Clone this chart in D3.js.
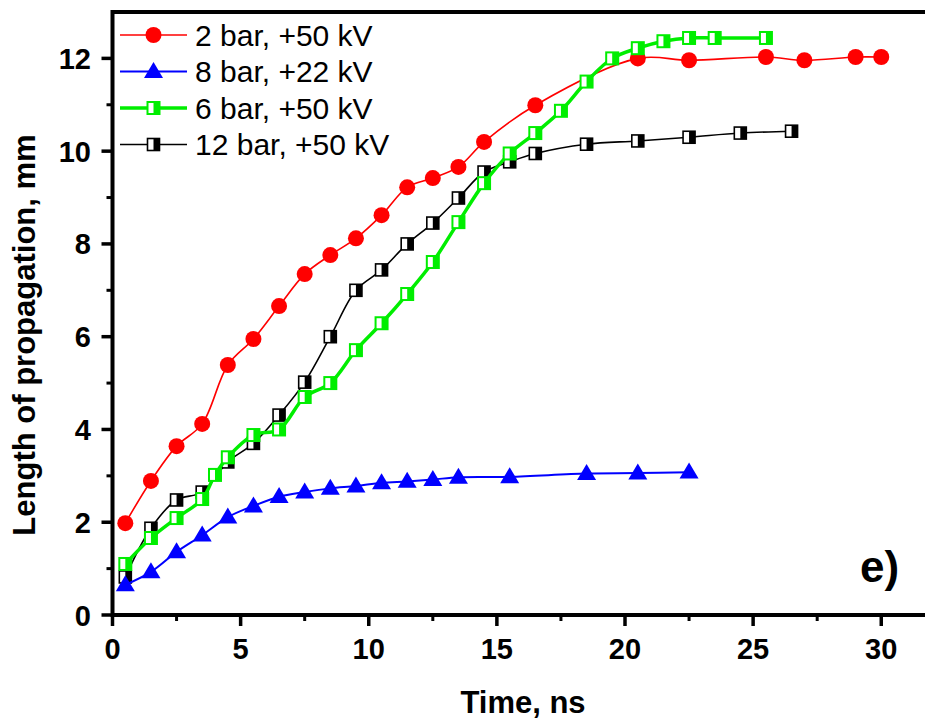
<!DOCTYPE html>
<html><head><meta charset="utf-8">
<script src="https://cdn.jsdelivr.net/npm/d3@7"></script>
<style>
html,body{margin:0;padding:0;background:#fff;}
svg{display:block;font-family:"Liberation Sans",Arial,Helvetica,sans-serif;}
</style></head>
<body><svg id="c" width="925" height="722"></svg>
<script>
const xTicks = [0,5,10,15,20,25,30];
const yTicks = [0,2,4,6,8,10,12];

const redX = [0.5,1.5,2.5,3.5,4.5,5.5,6.5,7.5,8.5,9.5,10.5,11.5,12.5,13.5,14.5,16.5,20.5,22.5,25.5,27,29,30];
const redY = [1.98,2.89,3.64,4.12,5.39,5.95,6.66,7.35,7.76,8.12,8.62,9.22,9.42,9.66,10.2,10.99,12.0,11.96,12.03,11.96,12.03,12.03];

const blueX = [0.5,1.5,2.5,3.5,4.5,5.5,6.5,7.5,8.5,9.5,10.5,11.5,12.5,13.5,15.5,18.5,20.5,22.5];
const blueY = [0.65,0.93,1.36,1.72,2.11,2.35,2.55,2.65,2.73,2.78,2.85,2.88,2.92,2.97,2.98,3.05,3.06,3.08];

const greenX = [0.5,1.5,2.5,3.5,4,4.5,5.5,6.5,7.5,8.5,9.5,10.5,11.5,12.5,13.5,14.5,15.5,16.5,17.5,18.5,19.5,20.5,21.5,22.5,23.5,25.5];
const greenY = [1.1,1.66,2.09,2.5,3.02,3.4,3.88,4.0,4.7,5.0,5.71,6.29,6.92,7.61,8.47,9.31,9.95,10.39,10.87,11.5,12.0,12.22,12.37,12.44,12.44,12.44];

const blackX = [0.5,1.5,2.5,3.5,4.5,5.5,6.5,7.5,8.5,9.5,10.5,11.5,12.5,13.5,14.5,15.5,16.5,18.5,20.5,22.5,24.5,26.5];
const blackY = [0.82,1.87,2.48,2.65,3.3,3.7,4.31,5.02,6.0,7.0,7.44,8.0,8.45,8.99,9.55,9.77,9.95,10.15,10.22,10.3,10.39,10.43];

const labels = ["2 bar, +50 kV","8 bar, +22 kV","6 bar, +50 kV","12 bar, +50 kV"];

const svg = d3.select("#c");
const L = 112.5, T = 12, W = 820, H = 603;
const x = d3.scaleLinear().domain([0,32]).range([L, L+W]);
const y = d3.scaleLinear().domain([0,13]).range([T+H, T]);

const series = [
  {name:labels[0], xs:redX, ys:redY, color:"#ff0000", width:1.6, sym:"circle"},
  {name:labels[3], xs:blackX, ys:blackY, color:"#000000", width:1.6, sym:"sqBlack"},
  {name:labels[1], xs:blueX, ys:blueY, color:"#0000ff", width:2, sym:"tri"},
  {name:labels[2], xs:greenX, ys:greenY, color:"#00ee00", width:3.5, sym:"sqGreen"}
];

function drawSym(g, sym, cx, cy){
  if(sym==="circle"){
    g.append("circle").attr("cx",cx).attr("cy",cy).attr("r",8).attr("fill","#ff0000");
  } else if(sym==="tri"){
    const s=19, h=16;
    g.append("path").attr("d",`M${cx},${cy-h*0.6}L${cx+s/2},${cy+h*0.4}L${cx-s/2},${cy+h*0.4}Z`).attr("fill","#0000ff");
  } else {
    const c = sym==="sqGreen" ? "#00ee00" : "#000000";
    const sw = sym==="sqGreen" ? 2 : 1.6;
    const a = 12;
    g.append("rect").attr("x",cx-a/2).attr("y",cy-a/2).attr("width",a).attr("height",a).attr("fill","#fff");
    g.append("rect").attr("x",cx).attr("y",cy-a/2).attr("width",a/2).attr("height",a).attr("fill",c);
    g.append("rect").attr("x",cx-a/2).attr("y",cy-a/2).attr("width",a).attr("height",a).attr("fill","none").attr("stroke",c).attr("stroke-width",sw);
  }
}

const line = d3.line().curve(d3.curveCatmullRom.alpha(0.5));
series.forEach(s=>{
  const pts = s.xs.map((v,i)=>[x(v), y(s.ys[i])]);
  svg.append("path").attr("d",line(pts)).attr("fill","none").attr("stroke",s.color).attr("stroke-width",s.width);
  const g = svg.append("g");
  pts.forEach(p=>drawSym(g, s.sym, p[0], p[1]));
});

// axes
const ax = svg.append("g").attr("stroke","#000");
d3.range(2.5,32,5).forEach(v=>{
  ax.append("line").attr("x1",x(v)).attr("x2",x(v)).attr("y1",T+H).attr("y2",T+H+6).attr("stroke-width",3);
});
xTicks.forEach(v=>{
  ax.append("line").attr("x1",x(v)).attr("x2",x(v)).attr("y1",T+H).attr("y2",T+H+11).attr("stroke-width",3.5);
});
d3.range(1,13,2).forEach(v=>{
  ax.append("line").attr("x1",L).attr("x2",L-6).attr("y1",y(v)).attr("y2",y(v)).attr("stroke-width",3);
});
yTicks.forEach(v=>{
  ax.append("line").attr("x1",L).attr("x2",L-11).attr("y1",y(v)).attr("y2",y(v)).attr("stroke-width",3.5);
});
ax.append("line").attr("x1",L).attr("x2",L+W).attr("y1",T+H).attr("y2",T+H).attr("stroke-width",4);
ax.append("line").attr("x1",L).attr("x2",L+W).attr("y1",T).attr("y2",T).attr("stroke-width",4);
ax.append("line").attr("x1",L).attr("x2",L).attr("y1",T-2).attr("y2",T+H+2).attr("stroke-width",4);

xTicks.forEach(v=>{
  svg.append("text").attr("x",x(v)).attr("y",659).attr("text-anchor","middle")
    .attr("font-size",29).attr("font-weight","bold").text(v);
});
yTicks.forEach(v=>{
  svg.append("text").attr("x",91).attr("y",y(v)+10.5).attr("text-anchor","end")
    .attr("font-size",29).attr("font-weight","bold").text(v);
});

svg.append("text").attr("x",523).attr("y",713).attr("text-anchor","middle")
  .attr("font-size",31).attr("font-weight","bold").text("Time, ns");
svg.append("text").attr("transform","translate(35,335) rotate(-90)").attr("text-anchor","middle")
  .attr("font-size",31).attr("font-weight","bold").text("Length of propagation, mm");
svg.append("text").attr("x",860).attr("y",582)
  .attr("font-size",44).attr("font-weight","bold").text("e)");

// legend
const legOrder = [series[0], series[2], series[3], series[1]];
legOrder.forEach((s,i)=>{
  const cy = 35 + i*36.5;
  svg.append("line").attr("x1",120).attr("x2",187).attr("y1",cy).attr("y2",cy)
    .attr("stroke",s.color).attr("stroke-width",s.width);
  drawSym(svg.append("g"), s.sym, 153.5, cy);
  svg.append("text").attr("x",195).attr("y",cy+10.5).attr("font-size",30).text(s.name);
});
</script>
</body></html>
